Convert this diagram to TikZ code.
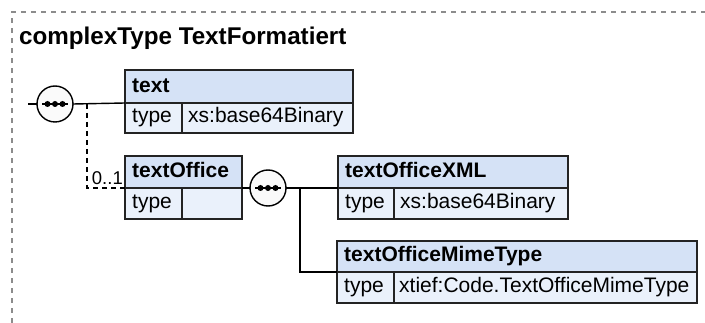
\documentclass[tikz,border=0pt]{standalone}
\usepackage{fontspec}
\setmainfont{Liberation Sans}
\definecolor{hdrfill}{RGB}{213,226,246}
\definecolor{rowfill}{RGB}{234,241,251}
\definecolor{boxline}{RGB}{35,35,35}
\definecolor{framec}{RGB}{140,140,140}
\definecolor{seqfill}{RGB}{250,250,250}
\begin{document}
\begin{tikzpicture}[x=1pt,y=-1pt,
  partbox/.style={draw=boxline, line width=1.4pt, anchor=north west, inner sep=0pt, outer sep=0pt},
  hdrbox/.style={partbox, fill=hdrfill},
  cellbox/.style={partbox, fill=rowfill},
  lbl/.style={anchor=base west, inner sep=0pt, font=\fontsize{21}{25}\selectfont},
  hlbl/.style={lbl, font=\fontsize{21}{25}\selectfont\bfseries},
  seq/.style={circle, draw=black, line width=1.4pt, fill=seqfill, minimum size=36pt, inner sep=0pt, outer sep=0pt},
  conn/.style={draw=black, line width=1.4pt},
  opt/.style={conn, dash pattern=on 5pt off 4pt},
  frame/.style={draw=framec, line width=1.2pt, dash pattern=on 5pt off 5pt}]
\useasboundingbox (0,0) rectangle (705,323);
\fill[white] (0,0) rectangle (705,323);
% frame
\coordinate (fTL) at (12,12);
\coordinate (fTR) at (705,12);
\coordinate (fBL) at (12,323);
\draw[frame] (fBL) -- (fTL) -- (fTR);
% title
\node[anchor=base west, inner sep=0pt, font=\fontsize{24.2}{29}\selectfont\bfseries] (title) at (19,45) {complexType TextFormatiert};

% element text
\node[hdrbox, minimum width=228pt, minimum height=33pt] (textH) at (125,70) {};
\node[cellbox, minimum width=57pt, minimum height=30pt] (textT) at (125,103) {};
\node[cellbox, minimum width=171pt, minimum height=30pt] (textV) at (182,103) {};
\node[hlbl] (textHl) at (132,93) {text};
\node[lbl] (textTl) at (132,123) {type};
\node[lbl] (textVl) at (188,123) {xs:base64Binary};

% element textOffice
\node[hdrbox, minimum width=117pt, minimum height=32pt] (toH) at (125,156) {};
\node[cellbox, minimum width=57pt, minimum height=31pt] (toT) at (125,188) {};
\node[cellbox, minimum width=60pt, minimum height=31pt] (toV) at (182,188) {};
\node[hlbl] (toHl) at (132,178) {textOffice};
\node[lbl] (toTl) at (132,209) {type};

% element textOfficeXML
\node[hdrbox, minimum width=230pt, minimum height=32pt] (xmlH) at (338,156) {};
\node[cellbox, minimum width=56pt, minimum height=31pt] (xmlT) at (338,188) {};
\node[cellbox, minimum width=174pt, minimum height=31pt] (xmlV) at (394,188) {};
\node[hlbl] (xmlHl) at (345,178) {textOfficeXML};
\node[lbl] (xmlTl) at (345,209) {type};
\node[lbl] (xmlVl) at (400,209) {xs:base64Binary};

% element textOfficeMimeType
\node[hdrbox, minimum width=360pt, minimum height=31pt] (mimeH) at (337,241) {};
\node[cellbox, minimum width=57pt, minimum height=31pt] (mimeT) at (337,272) {};
\node[cellbox, minimum width=303pt, minimum height=31pt] (mimeV) at (394,272) {};
\node[hlbl] (mimeHl) at (344,262) {textOfficeMimeType};
\node[lbl] (mimeTl) at (344,293) {type};
\node[lbl] (mimeVl) at (399,293) {xtief:Code.TextOfficeMimeType};

% sequence compositors
\node[seq] (s1) at (55,104) {};
\node[seq] (s2) at (268,188) {};
\foreach \s in {s1,s2}{
  \draw[line width=1.4pt] ([xshift=-13pt]\s.center) -- ([xshift=13pt]\s.center);
  \foreach \dx in {-7.5,0,7.5}
    \fill ([xshift=\dx pt]\s.center) circle (3pt);
}

% connectors
\coordinate (stub) at (28,104);
\coordinate (j1) at (87,104);
\coordinate (j2) at (300,188);
\draw[conn] (stub) -- (s1.west);
\draw[conn] (s1.east) -- (textH.south west);
\draw[opt] (j1) |- (toH.south west);
\node[anchor=base east, inner sep=0pt, font=\fontsize{18.5}{22}\selectfont] (mult) at (123,185) {0..1};
\draw[conn] (toH.south east) -- (s2.west);
\draw[conn] (s2.east) -- (xmlH.south west);
\draw[conn] (j2) |- (mimeH.south west);
\end{tikzpicture}
\end{document}
